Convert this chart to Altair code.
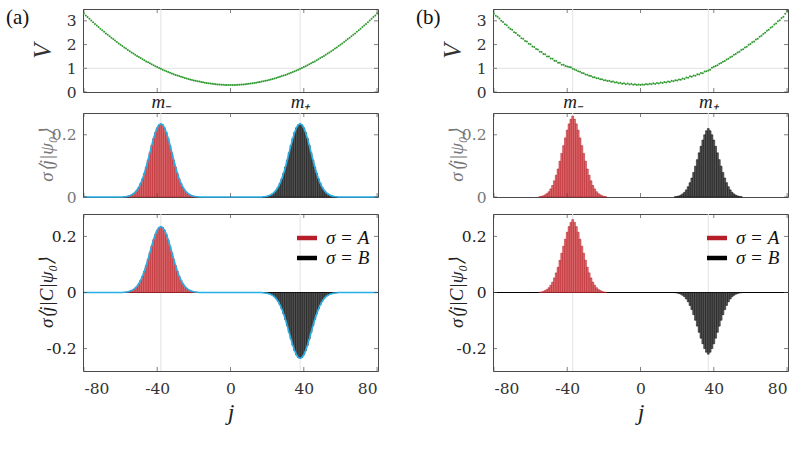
import altair as alt
import pandas as pd

# ---------------- data ----------------
j = list(range(-80, 81))

V_a = [3.31, 3.23, 3.16, 3.09, 3.01, 2.94, 2.87, 2.80, 2.74, 2.67,
       2.60, 2.54, 2.47, 2.41, 2.35, 2.29, 2.23, 2.17, 2.11, 2.05,
       1.99, 1.94, 1.88, 1.83, 1.77, 1.72, 1.67, 1.62, 1.57, 1.52,
       1.48, 1.43, 1.38, 1.34, 1.29, 1.25, 1.21, 1.17, 1.13, 1.09,
       1.05, 1.01, 0.98, 0.94, 0.91, 0.88, 0.84, 0.81, 0.78, 0.75,
       0.72, 0.70, 0.67, 0.64, 0.62, 0.59, 0.57, 0.55, 0.53, 0.51,
       0.49, 0.47, 0.45, 0.44, 0.42, 0.41, 0.39, 0.38, 0.37, 0.36,
       0.35, 0.34, 0.33, 0.32, 0.32, 0.31, 0.31, 0.30, 0.30, 0.30,
       0.30,
       0.30, 0.30, 0.30, 0.31, 0.31, 0.32, 0.32, 0.33, 0.34, 0.35,
       0.36, 0.37, 0.38, 0.39, 0.41, 0.42, 0.44, 0.45, 0.47, 0.49,
       0.51, 0.53, 0.55, 0.57, 0.59, 0.62, 0.64, 0.67, 0.70, 0.72,
       0.75, 0.78, 0.81, 0.84, 0.88, 0.91, 0.94, 0.98, 1.01, 1.05,
       1.09, 1.13, 1.17, 1.21, 1.25, 1.29, 1.34, 1.38, 1.43, 1.48,
       1.52, 1.57, 1.62, 1.67, 1.72, 1.77, 1.83, 1.88, 1.94, 1.99,
       2.05, 2.11, 2.17, 2.23, 2.29, 2.35, 2.41, 2.47, 2.54, 2.60,
       2.67, 2.74, 2.80, 2.87, 2.94, 3.01, 3.09, 3.16, 3.23, 3.31]

V_b = [3.30, 3.22, 3.17, 3.10, 3.00, 2.95, 2.86, 2.82, 2.72, 2.66,
       2.62, 2.52, 2.49, 2.40, 2.36, 2.27, 2.25, 2.15, 2.13, 2.03,
       2.01, 1.92, 1.90, 1.81, 1.79, 1.70, 1.69, 1.60, 1.59, 1.50,
       1.50, 1.41, 1.40, 1.32, 1.31, 1.23, 1.23, 1.15, 1.15, 1.10,
       1.08, 1.05, 1.04, 0.98, 0.95, 0.92, 0.87, 0.85, 0.80, 0.79,
       0.74, 0.73, 0.68, 0.67, 0.62, 0.62, 0.58, 0.58, 0.54, 0.54,
       0.50, 0.50, 0.46, 0.47, 0.43, 0.44, 0.40, 0.41, 0.37, 0.39,
       0.35, 0.37, 0.33, 0.36, 0.32, 0.35, 0.31, 0.33, 0.30, 0.32,
       0.29,
       0.32, 0.31, 0.34, 0.32, 0.35, 0.33, 0.37, 0.34, 0.38, 0.36,
       0.40, 0.38, 0.42, 0.40, 0.44, 0.42, 0.47, 0.45, 0.50, 0.48,
       0.53, 0.52, 0.57, 0.55, 0.61, 0.60, 0.66, 0.64, 0.70, 0.69,
       0.75, 0.74, 0.80, 0.79, 0.86, 0.88, 0.91, 0.94, 1.02, 1.06,
       1.10, 1.13, 1.19, 1.22, 1.28, 1.31, 1.37, 1.40, 1.47, 1.50,
       1.57, 1.60, 1.67, 1.70, 1.77, 1.80, 1.88, 1.91, 1.99, 2.02,
       2.10, 2.13, 2.21, 2.25, 2.33, 2.37, 2.45, 2.50, 2.58, 2.62,
       2.71, 2.75, 2.85, 2.89, 2.98, 3.03, 3.12, 3.17, 3.30, 3.42]

# amplitudes on sublattice A (red) and B (black): first j of window + values
A_a_start = -58
A_a = [0.0009, 0.0016, 0.0026, 0.0042, 0.0067, 0.0103, 0.0154, 0.0225, 0.0318, 0.0438,
       0.0586, 0.0763, 0.0966, 0.1190, 0.1425, 0.1661, 0.1882, 0.2074, 0.2223, 0.2318,
       0.2350,
       0.2318, 0.2223, 0.2074, 0.1882, 0.1661, 0.1425, 0.1190, 0.0966, 0.0763, 0.0586,
       0.0438, 0.0318, 0.0225, 0.0154, 0.0103, 0.0067, 0.0042, 0.0026, 0.0016, 0.0009]
B_a_start = 18
B_a = [0.0009, 0.0016, 0.0026, 0.0042, 0.0067, 0.0103, 0.0154, 0.0225, 0.0318, 0.0438,
       0.0586, 0.0763, 0.0966, 0.1190, 0.1425, 0.1661, 0.1882, 0.2074, 0.2223, 0.2318,
       0.2350,
       0.2318, 0.2223, 0.2074, 0.1882, 0.1661, 0.1425, 0.1190, 0.0966, 0.0763, 0.0586,
       0.0438, 0.0318, 0.0225, 0.0154, 0.0103, 0.0067, 0.0042, 0.0026, 0.0016, 0.0009]
A_b_start = -55
A_b = [0.001, 0.002, 0.004, 0.007, 0.011, 0.017, 0.026, 0.037, 0.052, 0.070,
       0.090, 0.115, 0.140, 0.165, 0.190, 0.215, 0.235, 0.250, 0.260, 0.250,
       0.235, 0.215, 0.190, 0.165, 0.140, 0.115, 0.090, 0.070, 0.052, 0.037,
       0.026, 0.017, 0.011, 0.007, 0.004, 0.002, 0.001]
B_b_start = 19
B_b = [0.001, 0.002, 0.0035, 0.006, 0.010, 0.015, 0.023, 0.033, 0.046, 0.061,
       0.079, 0.099, 0.120, 0.142, 0.163, 0.183, 0.200, 0.213, 0.220, 0.213,
       0.200, 0.183, 0.163, 0.142, 0.120, 0.099, 0.079, 0.061, 0.046, 0.033,
       0.023, 0.015, 0.010, 0.006, 0.0035, 0.002, 0.001]

m_a = [-38, 38]
m_b = [-37, 37]
x_ticks = [-80, -40, 0, 40, 80]
V_ticks = [0, 1, 2, 3]
V_grid = [1]
psi_ticks = [0, 0.2]
C_ticks = [-0.2, 0, 0.2]
legend_labels = ["σ = A", "σ = B"]
panel_labels = ["(a)", "(b)"]

assert len(V_a) == 161 and len(V_b) == 161

# ---------------- style ----------------
FONT = "Liberation Serif"
NUMFONT = "DejaVu Serif"
NUMSIZE = 15.5
W = 295
H_TOP, H_MID, H_BOT = 83, 84, 157
XDOM = [-80.5, 80.5]
RED_FILL, RED_LINE, RED_LEG = "#dc7073", "#b5121b", "#b81d2a"
BLK_FILL, BLK_LINE = "#5c5c5c", "#000000"
CYAN = "#27aee6"
GREEN = "#2e9a2e"
GRID = "#e2e2e2"
FRAME = "#4a4a4a"

NO_AXIS = dict(ticks=False, domain=False, grid=False, labels=False, title=None)


def window_df(start, vals, sign=1.0):
    return pd.DataFrame({
        "j": [start + i for i in range(len(vals))],
        "jl": [start + i - 0.5 for i in range(len(vals))],
        "jr": [start + i + 0.5 for i in range(len(vals))],
        "v": [sign * v for v in vals],
        "z": [0.0] * len(vals),
    })


def full_df(wins):
    d = {jj: 0.0 for jj in j}
    for start, vals, sign in wins:
        for i, v in enumerate(vals):
            d[start + i] = sign * v
    return pd.DataFrame({"j": j, "v": [d[jj] for jj in j]})


def y_axis(values, title, h, color, title_size, title_x):
    return alt.Axis(values=values, ticks=False, domain=False, grid=False,
                    labelExpr="'' + datum.value", labelFont=NUMFONT, labelFontSize=NUMSIZE,
                    labelColor=color, labelPadding=7,
                    title=title, titleFont=FONT, titleFontSize=title_size,
                    titleFontStyle="italic", titleFontWeight="normal", titleColor=color,
                    titleX=title_x, titleY=h / 2, titleAngle=270,
                    titleAlign="center", titleBaseline="middle")


class Panel:
    """Helper: every layer of one panel uses the same scales and axes."""

    def __init__(self, xaxis, ydom, yaxis, h):
        self.xscale = alt.Scale(domain=XDOM, nice=False, zero=False)
        self.yscale = alt.Scale(domain=ydom, nice=False, zero=False)
        self.xaxis = xaxis
        self.yaxis = yaxis
        self.h = h

    def X(self, f):
        return alt.X(f, scale=self.xscale, axis=self.xaxis)

    def Y(self, f):
        return alt.Y(f, scale=self.yscale, axis=self.yaxis)

    def ticks(self, yvals):
        tx = pd.DataFrame({"t": x_ticks})
        ty = pd.DataFrame({"t": yvals})
        bx = alt.Chart(tx).mark_tick(orient="vertical", size=4, thickness=1, color=FRAME)
        by = alt.Chart(ty).mark_tick(orient="horizontal", size=4, thickness=1, color=FRAME)
        return [
            bx.encode(x=self.X("t:Q"), y=alt.value(self.h - 2)),
            bx.encode(x=self.X("t:Q"), y=alt.value(2)),
            by.encode(y=self.Y("t:Q"), x=alt.value(2)),
            by.encode(y=self.Y("t:Q"), x=alt.value(W - 2)),
        ]

    def vgrid(self, ms):
        return alt.Chart(pd.DataFrame({"m": ms})).mark_rule(color=GRID, strokeWidth=1).encode(
            x=self.X("m:Q"))


def column(V, ms, Awin, Bwin, label, envelope):
    # ---- top: potential ----
    top_xaxis = alt.Axis(values=ms, ticks=False, domain=False, grid=False,
                         labelExpr="datum.value < 0 ? 'm₋' : 'm₊'",
                         labelFont=FONT, labelFontSize=19, labelFontStyle="italic",
                         labelColor="#222", labelPadding=0, title=None)
    P = Panel(top_xaxis, [0, 3.5], y_axis(V_ticks, "V", H_TOP, "#333", 25, -41), H_TOP)
    top_layers = [
        P.vgrid(ms),
        alt.Chart(pd.DataFrame({"g": V_grid})).mark_rule(color=GRID, strokeWidth=1).encode(
            y=P.Y("g:Q")),
        alt.Chart(pd.DataFrame({"j": j, "V": V})).mark_circle(size=4, color=GREEN, opacity=1).encode(
            x=P.X("j:Q"), y=P.Y("V:Q")),
    ] + P.ticks(V_ticks) + [
        alt.Chart(pd.DataFrame({"t": [label]})).mark_text(
            align="left", baseline="middle", font=FONT, fontSize=21, color="#111").encode(
            x=alt.value(-77), y=alt.value(8.5), text="t:N"),
    ]
    top = alt.layer(*top_layers).properties(width=W, height=H_TOP)

    # ---- middle: <j|psi0> ----
    M = Panel(alt.Axis(**NO_AXIS), [0, 0.27],
              y_axis(psi_ticks, "σ⟨j|ψ₀⟩", H_MID, "#777", 19, -37), H_MID)
    dfA = window_df(*Awin)
    dfB = window_df(*Bwin)
    mid_layers = [
        M.vgrid(ms),
        alt.Chart(dfA).mark_rect(fill=RED_FILL, stroke=RED_LINE, strokeWidth=0.5).encode(
            x=M.X("jl:Q"), x2="jr:Q", y=M.Y("v:Q"), y2="z:Q"),
        alt.Chart(dfB).mark_rect(fill=BLK_FILL, stroke=BLK_LINE, strokeWidth=0.5).encode(
            x=M.X("jl:Q"), x2="jr:Q", y=M.Y("v:Q"), y2="z:Q"),
    ]
    if envelope:
        mid_layers.append(
            alt.Chart(full_df([(Awin[0], Awin[1], 1.0), (Bwin[0], Bwin[1], 1.0)])).mark_line(
                color=CYAN, strokeWidth=1.6).encode(x=M.X("j:Q"), y=M.Y("v:Q")))
    mid_layers += M.ticks(psi_ticks)
    mid = alt.layer(*mid_layers).properties(width=W, height=H_MID)

    # ---- bottom: <j|C|psi0> ----
    bot_xaxis = alt.Axis(values=x_ticks, ticks=False, domain=False, grid=False,
                         labelExpr="'' + datum.value", labelFont=NUMFONT, labelFontSize=NUMSIZE,
                         labelColor="#333", labelPadding=10,
                         title="j", titleFont=FONT, titleFontSize=24, titleFontStyle="italic",
                         titleFontWeight="normal", titleColor="#222",
                         titleY=48, titleBaseline="alphabetic")
    B = Panel(bot_xaxis, [-0.28, 0.28],
              y_axis(C_ticks, "σ⟨j|C|ψ₀⟩", H_BOT, "#222", 19, -37), H_BOT)
    dfB2 = window_df(Bwin[0], Bwin[1], -1.0)
    bot_layers = [
        B.vgrid(ms),
        alt.Chart(pd.DataFrame({"z": [0]})).mark_rule(color="#000", strokeWidth=1).encode(
            y=B.Y("z:Q")),
        alt.Chart(dfA).mark_rect(fill=RED_FILL, stroke=RED_LINE, strokeWidth=0.5).encode(
            x=B.X("jl:Q"), x2="jr:Q", y=B.Y("v:Q"), y2="z:Q"),
        alt.Chart(dfB2).mark_rect(fill=BLK_FILL, stroke=BLK_LINE, strokeWidth=0.5).encode(
            x=B.X("jl:Q"), x2="jr:Q", y=B.Y("v:Q"), y2="z:Q"),
    ]
    if envelope:
        bot_layers.append(
            alt.Chart(full_df([(Awin[0], Awin[1], 1.0), (Bwin[0], Bwin[1], -1.0)])).mark_line(
                color=CYAN, strokeWidth=1.6).encode(x=B.X("j:Q"), y=B.Y("v:Q")))
    bot_layers += B.ticks(C_ticks)
    for k, (lab, col) in enumerate(zip(legend_labels, [RED_LEG, "#000000"])):
        yy = 24 + 20 * k
        bot_layers.append(
            alt.Chart(pd.DataFrame({"t": [lab]})).mark_rule(color=col, strokeWidth=4.5).encode(
                x=alt.value(214), x2=alt.value(234), y=alt.value(yy)))
        bot_layers.append(
            alt.Chart(pd.DataFrame({"t": [lab]})).mark_text(
                align="left", baseline="middle", font=FONT, fontSize=19,
                fontStyle="italic", color="#111").encode(
                x=alt.value(243), y=alt.value(yy), text="t:N"))
    bot = alt.layer(*bot_layers).properties(width=W, height=H_BOT)

    lower = alt.vconcat(mid, bot, spacing=7)
    return alt.vconcat(top, lower, spacing=0)


col_a = column(V_a, m_a, (A_a_start, A_a), (B_a_start, B_a), panel_labels[0], True)
col_b = column(V_b, m_b, (A_b_start, A_b), (B_b_start, B_b), panel_labels[1], False)

chart = alt.hconcat(col_a, col_b, spacing=34).properties(
    padding={"left": 5, "top": 6, "right": 0, "bottom": 0}
).configure_view(stroke=FRAME, strokeWidth=1)

chart.save("out.html", embed_options={"renderer": "svg", "actions": False})
